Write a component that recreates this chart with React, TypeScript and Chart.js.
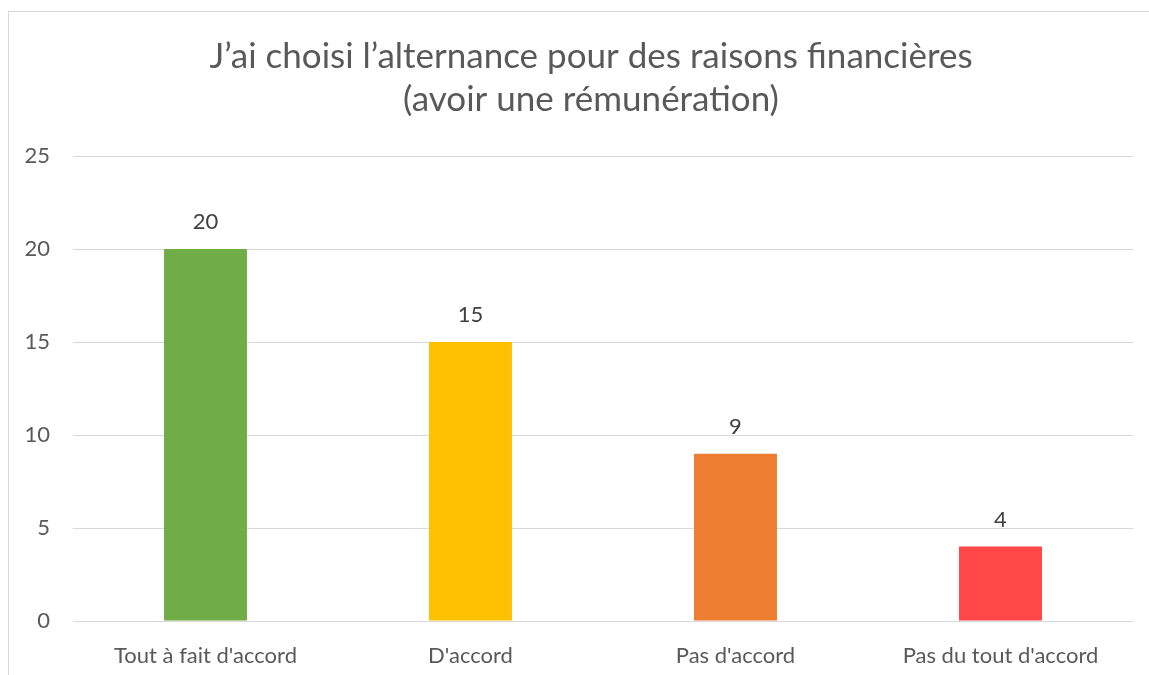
import React, { useEffect, useRef } from "react";
import { Chart, registerables } from "chart.js";

Chart.register(...registerables);

const categories = ["Tout à fait d'accord", "D'accord", "Pas d'accord", "Pas du tout d'accord"];
const values = [20, 15, 9, 4];
const barColors = ["#70AD47", "#FFC000", "#ED7D31", "#FF4747"];
const titleLines = ["J’ai choisi l’alternance pour des raisons financières", "(avoir une rémunération)"];
const yMin = 0;
const yMax = 25;
const yStep = 5;

const FONT = "Lato, 'Open Sans', sans-serif";

const dataLabelPlugin = {
  id: "dataLabels",
  afterLayout(chart: any) {
    if (chart.titleBlock) {
      chart.titleBlock.left = 49;
    }
  },
  afterDatasetsDraw(chart: any) {
    const ctx = chart.ctx;
    const meta = chart.getDatasetMeta(0);
    ctx.save();
    ctx.fillStyle = "#404040";
    ctx.font = `22px ${FONT}`;
    ctx.textAlign = "center";
    ctx.textBaseline = "middle";
    meta.data.forEach((bar: any, i: number) => {
      ctx.fillText(String(values[i]), bar.x, bar.y - 27);
    });
    ctx.restore();
  },
};

export default function App() {
  const ref = useRef<HTMLCanvasElement>(null);
  useEffect(() => {
    if (!ref.current) return;
    const chart = new Chart(ref.current, {
      type: "bar",
      data: {
        labels: categories,
        datasets: [
          {
            data: values,
            backgroundColor: barColors,
            borderWidth: 0,
            barPercentage: 0.313,
            categoryPercentage: 1,
          },
        ],
      },
      options: {
        animation: false,
        responsive: false,
        layout: { padding: { left: 0, right: 16, top: 0, bottom: 8 } },
        plugins: {
          legend: { display: false },
          tooltip: { enabled: false },
          title: {
            display: true,
            text: titleLines,
            color: "#595959",
            font: { family: FONT, size: 35, weight: "normal", lineHeight: 1.23 },
            padding: { top: 35, bottom: 35 },
          },
        },
        scales: {
          x: {
            grid: { display: false },
            border: { display: false },
            ticks: { color: "#595959", font: { family: FONT, size: 22 }, padding: 14, maxRotation: 0 },
            afterFit(scale: any) {
              scale.height = 46;
            },
          },
          y: {
            min: yMin,
            max: yMax,
            grid: { color: "#D9D9D9", lineWidth: 1, drawTicks: false },
            border: { display: false },
            ticks: { stepSize: yStep, color: "#595959", font: { family: FONT, size: 22 }, padding: 23 },
            afterFit(scale: any) {
              scale.width = 73;
            },
          },
        },
      },
      plugins: [dataLabelPlugin],
    });
    return () => chart.destroy();
  }, []);
  return (
    <div style={{ position: "absolute", left: 0, top: 0, width: 1149, height: 675, overflow: "hidden", background: "#fff" }}>
      <div
        style={{
          position: "absolute",
          left: 8,
          top: 11,
          width: 1200,
          height: 700,
          border: "1px solid #D9D9D9",
          boxSizing: "border-box",
        }}
      />
      <canvas ref={ref} width={1149} height={675} style={{ position: "absolute", left: 0, top: 0 }} />
    </div>
  );
}
